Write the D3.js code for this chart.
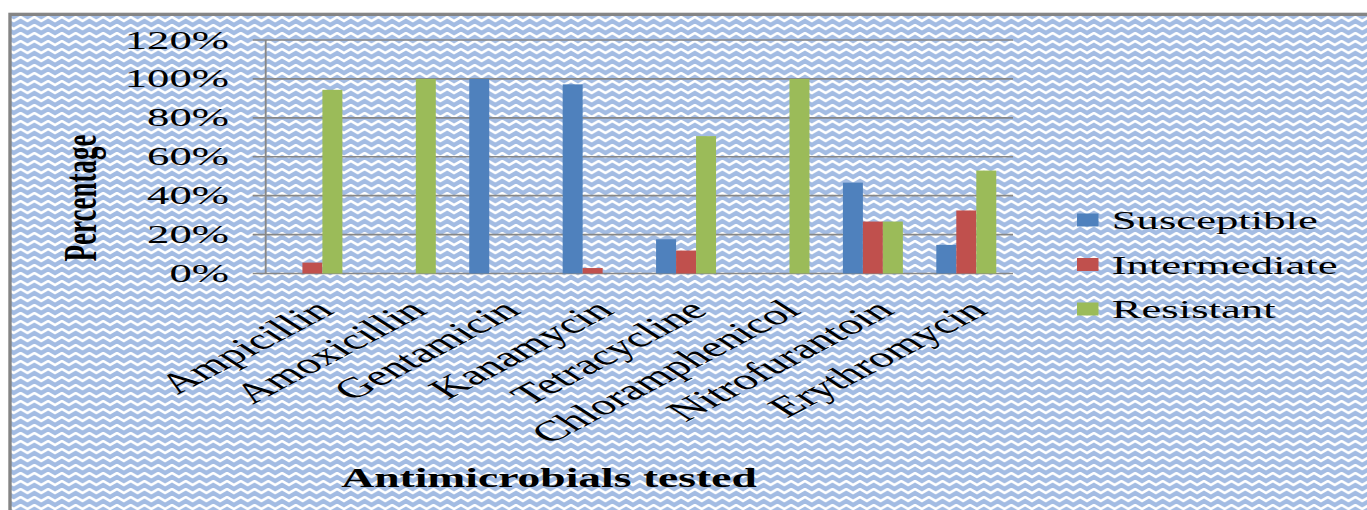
<!DOCTYPE html>
<html>
<head>
<meta charset="utf-8">
<script src="https://cdn.jsdelivr.net/npm/d3@7"></script>
<style>
  html, body { margin: 0; padding: 0; background: #fff; overflow: hidden; }
  svg { display: block; }
  text { font-family: "Liberation Serif", "Times New Roman", serif; fill: #000; }
</style>
</head>
<body>
<div id="chart"></div>
<script>
// Antimicrobial susceptibility profile (percent of isolates)
const categories = ["Ampicillin", "Amoxicillin", "Gentamicin", "Kanamycin",
  "Tetracycline", "Chloramphenicol", "Nitrofurantoin", "Erythromycin"];
const seriesNames = ["Susceptible", "Intermediate", "Resistant"];
const susceptible  = [0, 0, 100, 97.2, 17.6, 0, 46.7, 14.7];
const intermediate = [5.6, 0, 0, 2.8, 11.8, 0, 26.7, 32.4];
const resistant    = [94.4, 100, 0, 0, 70.6, 100, 26.7, 52.9];
const yTicks = [0, 20, 40, 60, 80, 100, 120];
const seriesColors = ["#4f81bd", "#c0504d", "#9bbb59"];

const seriesValues = [susceptible, intermediate, resistant];

// The drawing is laid out in a narrow coordinate space and widened
// horizontally to fill the page.
const OUT_W = 1367, OUT_H = 510;
const SX = 1.72;
const W = OUT_W / SX, H = OUT_H;

const svg = d3.select("#chart").append("svg")
  .attr("width", OUT_W).attr("height", OUT_H)
  .attr("viewBox", `0 0 ${W} ${H}`)
  .attr("preserveAspectRatio", "none");

// zig-zag fill used for the chart background
const defs = svg.append("defs");
const pat = defs.append("pattern")
  .attr("id", "zigzag").attr("patternUnits", "userSpaceOnUse")
  .attr("width", 8).attr("height", 8);
pat.append("rect").attr("width", 8).attr("height", 8).attr("fill", "#a3bce3");
pat.append("polyline")
  .attr("points", "-4,9 0,5 4,1 8,5 12,1")
  .attr("fill", "none").attr("stroke", "#ffffff").attr("stroke-width", 2.1);

// frame + background
svg.append("rect").attr("x", 8.3 / SX).attr("y", 12.7)
  .attr("width", W).attr("height", H).attr("fill", "#858585");
svg.append("rect").attr("x", 11.7 / SX).attr("y", 16)
  .attr("width", W).attr("height", H).attr("fill", "url(#zigzag)");

// plot area
const plotLeft = 265.7 / SX, plotRight = 1013 / SX;
const plotTop = 40, plotBottom = 273.5;

const x0 = d3.scaleBand().domain(categories).range([plotLeft, plotRight]);
const bw = x0.bandwidth();
const x1 = d3.scaleBand().domain(seriesNames).range([bw * 0.179, bw * 0.821]);
const y = d3.scaleLinear().domain([0, 120]).range([plotBottom, plotTop]);

// gridlines with outside tick stubs
svg.append("g").selectAll("line").data(yTicks).join("line")
  .attr("x1", plotLeft - 13 / SX).attr("x2", plotRight)
  .attr("y1", d => y(d)).attr("y2", d => y(d))
  .attr("stroke", "#878787").attr("stroke-width", 1.6);

// value axis line
svg.append("line")
  .attr("x1", plotLeft).attr("x2", plotLeft)
  .attr("y1", y(120)).attr("y2", y(0))
  .attr("stroke", "#878787").attr("stroke-width", 1.1);

// y tick labels
svg.append("g").selectAll("text").data(yTicks).join("text")
  .attr("x", 229 / SX).attr("y", d => y(d)).attr("dy", "0.33em")
  .attr("text-anchor", "end").attr("font-size", 26)
  .text(d => d + "%");

// bars
const groups = svg.append("g").selectAll("g").data(categories).join("g")
  .attr("transform", c => `translate(${x0(c)},0)`);
groups.selectAll("rect")
  .data((c, i) => seriesNames.map((s, k) => ({ s, k, v: seriesValues[k][i] })))
  .join("rect")
  .attr("x", d => x1(d.s)).attr("width", x1.bandwidth())
  .attr("y", d => y(d.v)).attr("height", d => y(0) - y(d.v))
  .attr("fill", d => seriesColors[d.k]);

// category labels, slanted
svg.append("g").selectAll("text").data(categories).join("text")
  .attr("transform", c => `translate(${x0(c) + bw / 2 + 23 / SX},${plotBottom + 39}) rotate(-42)`)
  .attr("text-anchor", "end").attr("font-size", 28.5)
  .text(c => c);

// axis titles
svg.append("text")
  .attr("transform", `translate(${96 / SX},198) rotate(-90)`)
  .attr("text-anchor", "middle").attr("font-size", 27).attr("font-weight", "bold")
  .text("Percentage");
svg.append("text")
  .attr("x", 549 / SX).attr("y", 487)
  .attr("text-anchor", "middle").attr("font-size", 26.5).attr("font-weight", "bold")
  .text("Antimicrobials tested");

// legend
const legend = svg.append("g").selectAll("g").data(seriesNames).join("g")
  .attr("transform", (s, i) => `translate(${1077 / SX},${220 + i * 44.5})`);
legend.append("rect")
  .attr("x", 0).attr("y", -6.5).attr("width", 21.5 / SX).attr("height", 13)
  .attr("fill", (s, i) => seriesColors[i]);
legend.append("text")
  .attr("x", (1111.7 - 1077) / SX).attr("y", 9)
  .attr("font-size", 26)
  .text(s => s);
</script>
</body>
</html>
